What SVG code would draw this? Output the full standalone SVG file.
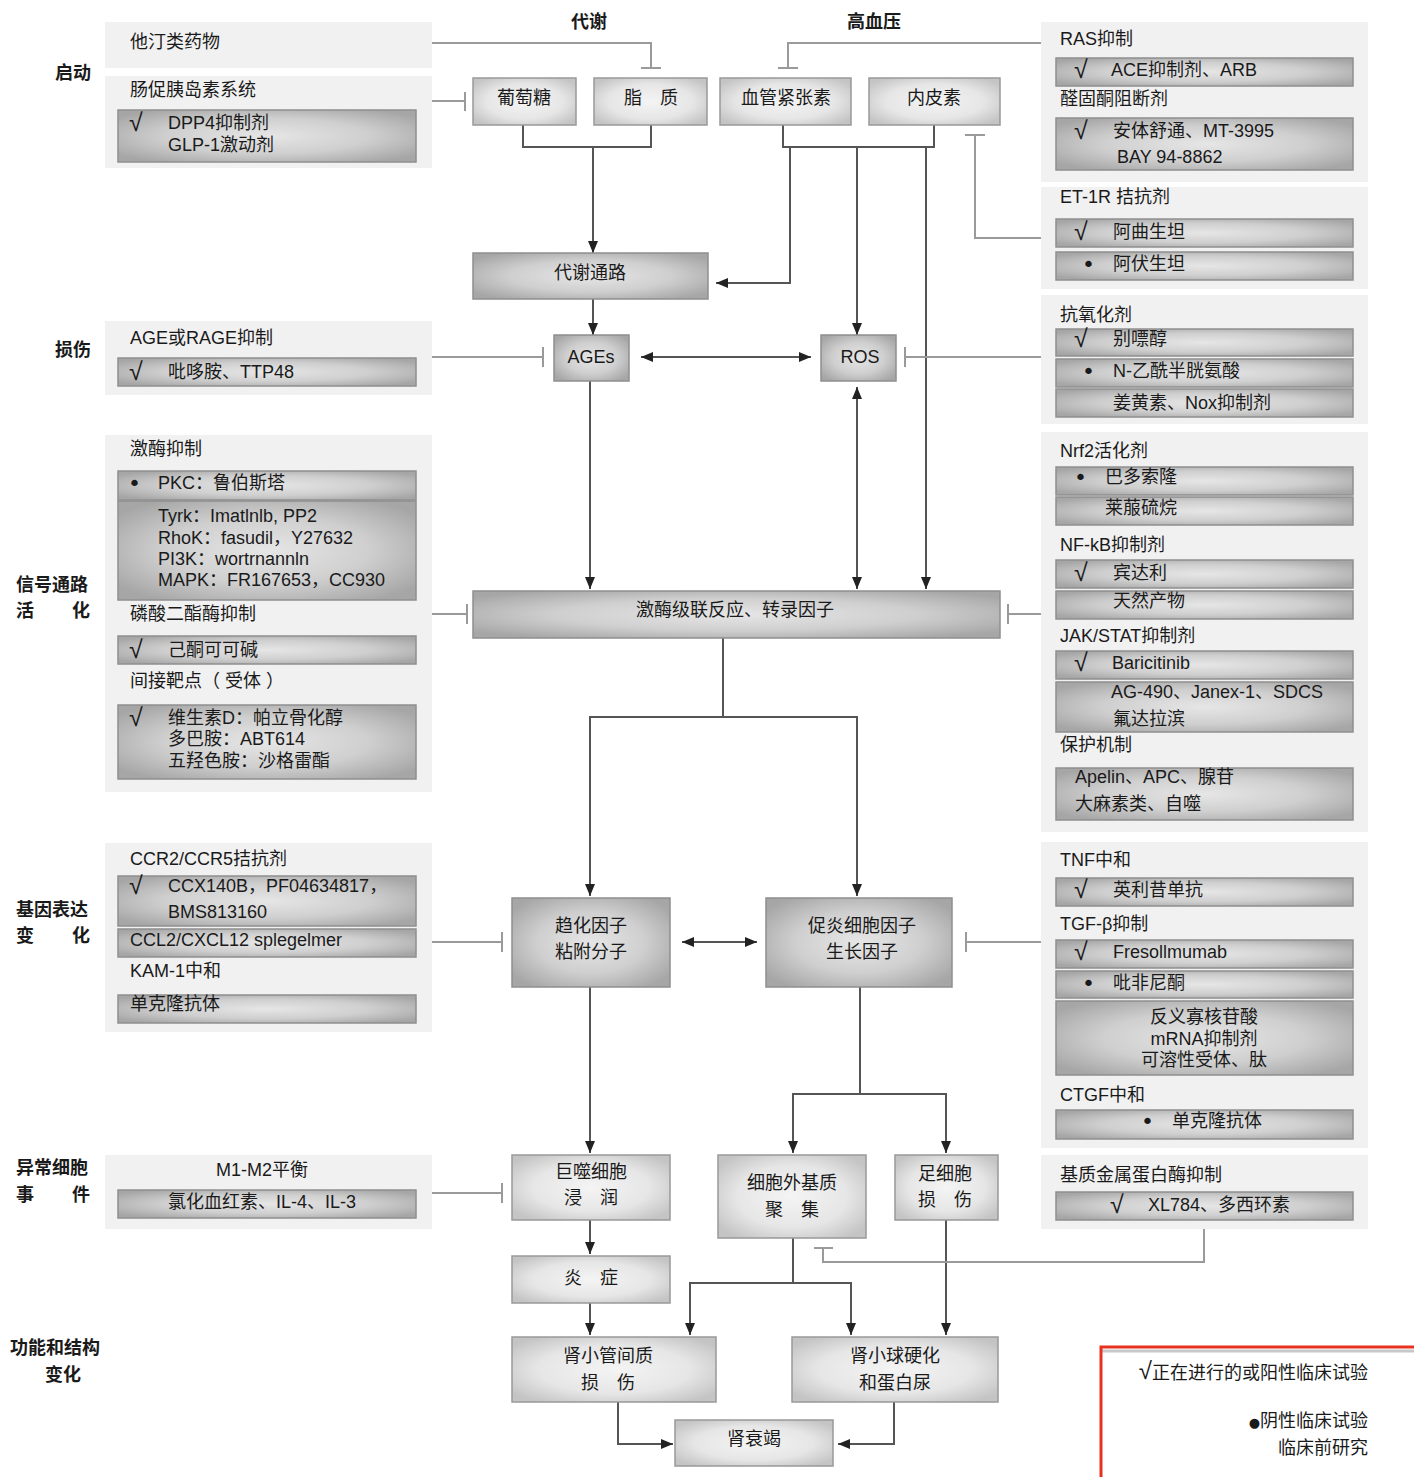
<svg xmlns="http://www.w3.org/2000/svg" width="1414" height="1477" viewBox="0 0 1414 1477">
<defs>
<radialGradient id="gL" cx="0.5" cy="0.5" r="0.62">
<stop offset="0" stop-color="#f4f4f4"/><stop offset="0.6" stop-color="#e6e6e6"/><stop offset="1" stop-color="#c4c4c4"/>
</radialGradient>
<radialGradient id="gD" cx="0.5" cy="0.5" r="0.62">
<stop offset="0" stop-color="#e6e6e6"/><stop offset="0.55" stop-color="#cfcfcf"/><stop offset="1" stop-color="#a6a6a6"/>
</radialGradient>
<marker id="ar" viewBox="0 0 12 10" refX="12" refY="5" markerWidth="12" markerHeight="10" markerUnits="userSpaceOnUse" orient="auto-start-reverse">
<path d="M0,0 L12,5 L0,10 Z" fill="#222"/>
</marker>
</defs>
<style>
text{font-family:"Liberation Sans","Noto Sans CJK SC",sans-serif;font-size:18px;fill:#1a1a1a}
.b{font-weight:bold}
.c{text-anchor:middle}
.e{text-anchor:end}
.ck{font-family:"Liberation Sans",sans-serif;font-size:25px}
.dt{font-family:"DejaVu Sans",sans-serif;font-size:22px}
.pan{fill:#f1f1f1}
.drug{fill:url(#gD);stroke:#8f8f8f;stroke-width:1.5}
.nl{fill:url(#gL);stroke:#999;stroke-width:1.5}
.nd{fill:url(#gD);stroke:#8f8f8f;stroke-width:1.5}
.act{fill:none;stroke:#555;stroke-width:2}
.inh{fill:none;stroke:#9a9a9a;stroke-width:2}
</style>
<rect width="1414" height="1477" fill="#fff"/>

<!-- row labels -->
<g id="labels">
<text class="b" x="55" y="79">启动</text>
<text class="b" x="55" y="356">损伤</text>
<text class="b" x="16" y="591">信号通路</text>
<text class="b" y="617"><tspan x="16">活</tspan><tspan x="72">化</tspan></text>
<text class="b" x="16" y="916">基因表达</text>
<text class="b" y="942"><tspan x="16">变</tspan><tspan x="72">化</tspan></text>
<text class="b" x="16" y="1174">异常细胞</text>
<text class="b" y="1201"><tspan x="16">事</tspan><tspan x="72">件</tspan></text>
<text class="b" x="10" y="1354">功能和结构</text>
<text class="b" x="45" y="1381">变化</text>
<text class="b c" x="589" y="28">代谢</text>
<text class="b c" x="874" y="28">高血压</text>
</g>

<!-- left panels -->
<g id="p-statin">
<rect class="pan" x="105" y="22" width="327" height="46"/>
<text x="130" y="48">他汀类药物</text>
</g>
<g id="p-incretin">
<rect class="pan" x="105" y="76" width="327" height="92"/>
<text x="130" y="96">肠促胰岛素系统</text>
<rect class="drug" x="118" y="110" width="298" height="52"/>
<text class="ck" x="129" y="131">√</text>
<text x="168" y="129">DPP4抑制剂</text>
<text x="168" y="151">GLP-1激动剂</text>
</g>
<g id="p-age">
<rect class="pan" x="105" y="321" width="327" height="74"/>
<text x="130" y="344">AGE或RAGE抑制</text>
<rect class="drug" x="118" y="358" width="298" height="28"/>
<text class="ck" x="129" y="380">√</text>
<text x="168" y="378">吡哆胺、TTP48</text>
</g>
<g id="p-kinase">
<rect class="pan" x="105" y="435" width="327" height="357"/>
<text x="130" y="455">激酶抑制</text>
<rect class="drug" x="118" y="471" width="298" height="29"/>
<text class="dt" x="128" y="491">•</text>
<text x="158" y="489">PKC：鲁伯斯塔</text>
<rect class="drug" x="118" y="501" width="298" height="99"/>
<text x="158" y="522">Tyrk：Imatlnlb, PP2</text>
<text x="158" y="544">RhoK：fasudil，Y27632</text>
<text x="158" y="565">PI3K：wortrnannln</text>
<text x="158" y="586">MAPK：FR167653，CC930</text>
<text x="130" y="620">磷酸二酯酶抑制</text>
<rect class="drug" x="118" y="636" width="298" height="28"/>
<text class="ck" x="129" y="658">√</text>
<text x="168" y="656">己酮可可碱</text>
<text x="130" y="687">间接靶点（ 受体 ）</text>
<rect class="drug" x="118" y="705" width="298" height="74"/>
<text class="ck" x="129" y="726">√</text>
<text x="168" y="724">维生素D：帕立骨化醇</text>
<text x="168" y="745">多巴胺：ABT614</text>
<text x="168" y="767">五羟色胺：沙格雷酯</text>
</g>
<g id="p-ccr">
<rect class="pan" x="105" y="843" width="327" height="189"/>
<text x="130" y="865">CCR2/CCR5拮抗剂</text>
<rect class="drug" x="118" y="876" width="298" height="50"/>
<text class="ck" x="129" y="894">√</text>
<text x="168" y="892">CCX140B，PF04634817，</text>
<text x="168" y="918">BMS813160</text>
<rect class="drug" x="118" y="929" width="298" height="28"/>
<text x="130" y="946">CCL2/CXCL12 splegelmer</text>
<text x="130" y="977">KAM-1中和</text>
<rect class="drug" x="118" y="995" width="298" height="28"/>
<text x="130" y="1010">单克隆抗体</text>
</g>
<g id="p-m1m2">
<rect class="pan" x="105" y="1155" width="327" height="74"/>
<text class="c" x="262" y="1176">M1-M2平衡</text>
<rect class="drug" x="118" y="1190" width="298" height="28"/>
<text class="c" x="262" y="1208">氯化血红素、IL-4、IL-3</text>
</g>

<!-- right panels -->
<g id="p-ras">
<rect class="pan" x="1041" y="22" width="327" height="160"/>
<text x="1060" y="45">RAS抑制</text>
<rect class="drug" x="1056" y="58" width="297" height="28"/>
<text class="ck" x="1074" y="78">√</text>
<text x="1111" y="76">ACE抑制剂、ARB</text>
<text x="1060" y="105">醛固酮阻断剂</text>
<rect class="drug" x="1056" y="118" width="297" height="52"/>
<text class="ck" x="1074" y="139">√</text>
<text x="1113" y="137">安体舒通、MT-3995</text>
<text x="1117" y="163">BAY 94-8862</text>
</g>
<g id="p-et1r">
<rect class="pan" x="1041" y="187" width="327" height="102"/>
<text x="1060" y="203">ET-1R 拮抗剂</text>
<rect class="drug" x="1056" y="219" width="297" height="28"/>
<text class="ck" x="1074" y="240">√</text>
<text x="1113" y="238">阿曲生坦</text>
<rect class="drug" x="1056" y="252" width="297" height="28"/>
<text class="dt" x="1082" y="272">•</text>
<text x="1113" y="270">阿伏生坦</text>
</g>
<g id="p-antiox">
<rect class="pan" x="1041" y="295" width="327" height="129"/>
<text x="1060" y="321">抗氧化剂</text>
<rect class="drug" x="1056" y="329" width="297" height="27"/>
<text class="ck" x="1074" y="347">√</text>
<text x="1113" y="345">别嘌醇</text>
<rect class="drug" x="1056" y="359" width="297" height="28"/>
<text class="dt" x="1082" y="379">•</text>
<text x="1113" y="377">N-乙酰半胱氨酸</text>
<rect class="drug" x="1056" y="389" width="297" height="28"/>
<text x="1113" y="409">姜黄素、Nox抑制剂</text>
</g>
<g id="p-nrf2">
<rect class="pan" x="1041" y="432" width="327" height="400"/>
<text x="1060" y="457">Nrf2活化剂</text>
<rect class="drug" x="1056" y="467" width="297" height="28"/>
<text class="dt" x="1074" y="485">•</text>
<text x="1105" y="483">巴多索隆</text>
<rect class="drug" x="1056" y="497" width="297" height="28"/>
<text x="1105" y="514">莱菔硫烷</text>
<text x="1060" y="551">NF-kB抑制剂</text>
<rect class="drug" x="1056" y="560" width="297" height="28"/>
<text class="ck" x="1074" y="581">√</text>
<text x="1113" y="579">宾达利</text>
<rect class="drug" x="1056" y="591" width="297" height="28"/>
<text x="1113" y="607">天然产物</text>
<text x="1060" y="642">JAK/STAT抑制剂</text>
<rect class="drug" x="1056" y="651" width="297" height="28"/>
<text class="ck" x="1074" y="671">√</text>
<text x="1112" y="669">Baricitinib</text>
<rect class="drug" x="1056" y="682" width="297" height="50"/>
<text x="1111" y="698">AG-490、Janex-1、SDCS</text>
<text x="1113" y="725">氟达拉滨</text>
<text x="1060" y="751">保护机制</text>
<rect class="drug" x="1056" y="768" width="297" height="52"/>
<text x="1075" y="783">Apelin、APC、腺苷</text>
<text x="1075" y="810">大麻素类、自噬</text>
</g>
<g id="p-tnf">
<rect class="pan" x="1041" y="842" width="327" height="306"/>
<text x="1060" y="866">TNF中和</text>
<rect class="drug" x="1056" y="878" width="297" height="28"/>
<text class="ck" x="1074" y="898">√</text>
<text x="1113" y="896">英利昔单抗</text>
<text x="1060" y="930">TGF-β抑制</text>
<rect class="drug" x="1056" y="940" width="297" height="28"/>
<text class="ck" x="1074" y="960">√</text>
<text x="1113" y="958">Fresollmumab</text>
<rect class="drug" x="1056" y="971" width="297" height="27"/>
<text class="dt" x="1082" y="991">•</text>
<text x="1113" y="989">吡非尼酮</text>
<rect class="drug" x="1056" y="1001" width="297" height="74"/>
<text class="c" x="1204" y="1023">反义寡核苷酸</text>
<text class="c" x="1204" y="1045">mRNA抑制剂</text>
<text class="c" x="1204" y="1066">可溶性受体、肽</text>
<text x="1060" y="1101">CTGF中和</text>
<rect class="drug" x="1056" y="1110" width="297" height="29"/>
<text class="dt" x="1141" y="1129">•</text>
<text x="1172" y="1127">单克隆抗体</text>
</g>
<g id="p-mmp">
<rect class="pan" x="1041" y="1155" width="327" height="74"/>
<text x="1060" y="1181">基质金属蛋白酶抑制</text>
<rect class="drug" x="1056" y="1192" width="297" height="28"/>
<text class="ck" x="1110" y="1213">√</text>
<text x="1148" y="1211">XL784、多西环素</text>
</g>

<!-- connectors -->
<g id="connectors">
<path class="act" d="M523,125 V147 H651 V125"/>
<path class="act" d="M593,147 V253" marker-end="url(#ar)"/>
<path class="act" d="M783,125 V147 H934 V125"/>
<path class="act" d="M790,147 V283 H716" marker-end="url(#ar)"/>
<path class="act" d="M857,147 V335" marker-end="url(#ar)"/>
<path class="act" d="M926,147 V589" marker-end="url(#ar)"/>
<path class="act" d="M593,299 V335" marker-end="url(#ar)"/>
<path class="act" d="M641,357 H811" marker-start="url(#ar)" marker-end="url(#ar)"/>
<path class="act" d="M590,381 V589" marker-end="url(#ar)"/>
<path class="act" d="M857,387 V589" marker-start="url(#ar)" marker-end="url(#ar)"/>
<path class="act" d="M723,638 V717 H590 V896" marker-end="url(#ar)"/>
<path class="act" d="M723,717 H857 V896" marker-end="url(#ar)"/>
<path class="act" d="M682,942 H757" marker-start="url(#ar)" marker-end="url(#ar)"/>
<path class="act" d="M590,987 V1153" marker-end="url(#ar)"/>
<path class="act" d="M860,987 V1094 H793 V1153" marker-end="url(#ar)"/>
<path class="act" d="M860,1094 H946 V1153" marker-end="url(#ar)"/>
<path class="act" d="M590,1220 V1254" marker-end="url(#ar)"/>
<path class="act" d="M590,1303 V1335" marker-end="url(#ar)"/>
<path class="act" d="M793,1238 V1283 H690 V1335" marker-end="url(#ar)"/>
<path class="act" d="M793,1283 H851 V1335" marker-end="url(#ar)"/>
<path class="act" d="M946,1220 V1335" marker-end="url(#ar)"/>
<path class="act" d="M618,1402 V1444 H673" marker-end="url(#ar)"/>
<path class="act" d="M894,1402 V1444 H838" marker-end="url(#ar)"/>
<!-- inhibitions -->
<path class="inh" d="M432,43 H651 V68 M641,68 H661"/>
<path class="inh" d="M1041,43 H788 V68 M778,68 H798"/>
<path class="inh" d="M432,101 H465 M465,92 V111"/>
<path class="inh" d="M1041,238 H975 V135 M965,135 H985"/>
<path class="inh" d="M432,357 H543 M543,347 V367"/>
<path class="inh" d="M1041,357 H905 M905,347 V367"/>
<path class="inh" d="M432,614 H467 M467,604 V624"/>
<path class="inh" d="M1041,614 H1008 M1008,604 V624"/>
<path class="inh" d="M432,942 H502 M502,932 V952"/>
<path class="inh" d="M1041,942 H966 M966,932 V952"/>
<path class="inh" d="M432,1193 H502 M502,1183 V1203"/>
<path class="inh" d="M1204,1229 V1262 H823 V1248 M814,1248 H833"/>
</g>

<!-- nodes -->
<g id="n-glucose"><rect class="nl" x="473" y="78" width="103" height="47"/><text class="c" x="524" y="104">葡萄糖</text></g>
<g id="n-lipid"><rect class="nl" x="594" y="78" width="113" height="47"/><text class="c" x="651" y="104">脂　质</text></g>
<g id="n-angio"><rect class="nl" x="720" y="78" width="131" height="47"/><text class="c" x="786" y="104">血管紧张素</text></g>
<g id="n-endo"><rect class="nl" x="869" y="78" width="131" height="47"/><text class="c" x="934" y="104">内皮素</text></g>
<g id="n-metab"><rect class="nd" x="473" y="253" width="235" height="46"/><text class="c" x="590" y="279">代谢通路</text></g>
<g id="n-ages"><rect class="nd" x="554" y="335" width="75" height="46"/><text class="c" x="591" y="363">AGEs</text></g>
<g id="n-ros"><rect class="nd" x="821" y="335" width="75" height="46"/><text class="c" x="860" y="363">ROS</text></g>
<g id="n-kinase"><rect class="nd" x="473" y="591" width="527" height="47"/><text class="c" x="735" y="616">激酶级联反应、转录因子</text></g>
<g id="n-chemo"><rect class="nd" x="512" y="898" width="158" height="89"/><text class="c" x="591" y="932">趋化因子</text><text class="c" x="591" y="958">粘附分子</text></g>
<g id="n-cyto"><rect class="nd" x="766" y="898" width="186" height="89"/><text class="c" x="862" y="932">促炎细胞因子</text><text class="c" x="862" y="958">生长因子</text></g>
<g id="n-macro"><rect class="nl" x="512" y="1155" width="158" height="65"/><text class="c" x="591" y="1178">巨噬细胞</text><text class="c" x="591" y="1204">浸　润</text></g>
<g id="n-ecm"><rect class="nl" x="718" y="1155" width="148" height="83"/><text class="c" x="792" y="1189">细胞外基质</text><text class="c" x="792" y="1216">聚　集</text></g>
<g id="n-podo"><rect class="nl" x="895" y="1155" width="103" height="65"/><text class="c" x="945" y="1180">足细胞</text><text class="c" x="945" y="1206">损　伤</text></g>
<g id="n-inflam"><rect class="nl" x="512" y="1256" width="158" height="47"/><text class="c" x="591" y="1284">炎　症</text></g>
<g id="n-tubule"><rect class="nl" x="512" y="1337" width="204" height="65"/><text class="c" x="608" y="1362">肾小管间质</text><text class="c" x="608" y="1389">损　伤</text></g>
<g id="n-glom"><rect class="nl" x="792" y="1337" width="206" height="65"/><text class="c" x="895" y="1362">肾小球硬化</text><text class="c" x="895" y="1389">和蛋白尿</text></g>
<g id="n-failure"><rect class="nl" x="675" y="1420" width="158" height="46"/><text class="c" x="754" y="1445">肾衰竭</text></g>

<!-- legend -->
<g id="legend">
<line x1="1102" y1="1351" x2="1414" y2="1351" stroke="#c8c8c8" stroke-width="3"/>
<path d="M1101,1477 V1347 H1414" fill="none" stroke="#e8321e" stroke-width="3"/>
<text class="e" x="1368" y="1379"><tspan font-size="24">√</tspan>正在进行的或阳性临床试验</text>
<text class="e" x="1368" y="1427"><tspan font-family="DejaVu Sans" font-size="13">●</tspan>阴性临床试验</text>
<text class="e" x="1368" y="1454">临床前研究</text>
</g>
</svg>
